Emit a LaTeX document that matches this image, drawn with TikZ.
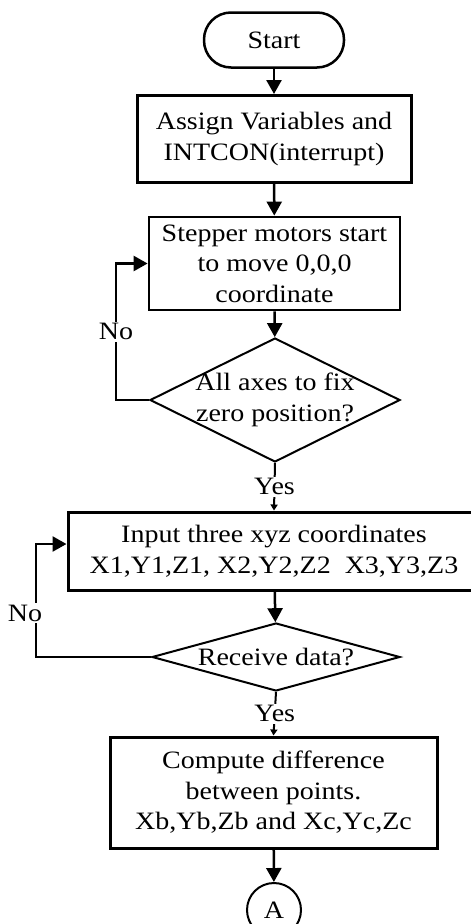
\documentclass[tikz,border=0pt]{standalone}
\usepackage{fontspec}
\setmainfont[FakeStretch=1.12]{Liberation Serif}
\usetikzlibrary{shapes.geometric,arrows.meta}
\begin{document}
\begin{tikzpicture}[x=1pt,y=1pt,
  font=\fontsize{25}{30.5}\selectfont,
  box/.style={draw, line width=3pt, rectangle, inner sep=0pt, align=center},
  term/.style={draw, line width=2.5pt, rounded corners=27pt, inner sep=0pt,
    minimum width=140pt, minimum height=55pt},
  decision/.style={draw, line width=2pt, diamond, inner sep=0pt},
  conn/.style={draw, line width=2.5pt, -{Triangle[length=14pt,width=15pt]}},
  yesconn/.style={draw, line width=2pt, -{Triangle[length=6pt,width=7pt]}},
  lab/.style={fill=white, inner sep=1.5pt},
  txt/.style={align=center, inner sep=0pt},
  ]
\useasboundingbox (0,0) rectangle (471,-924);
\clip (0,0) rectangle (471,-924);

\node[term] (start) at (274,-40) {Start};
\node[box, minimum width=274pt, minimum height=87pt] (b1) at (274,-139)
  {Assign Variables and\\INTCON(interrupt)};
\node[box, line width=2.8pt, minimum width=251pt, minimum height=93pt] (b2) at (274.5,-263.5)
  {Stepper motors start\\to move 0,0,0\\coordinate};
\node[decision, minimum width=250pt, minimum height=124pt] (d1) at (275,-400) {};
\node[txt] (d1t) at (d1.center) {All axes to fix\\zero position?};
\node[box, minimum width=412pt, minimum height=78pt] (b3) at (274,-551)
  {Input three xyz coordinates\\X1,Y1,Z1, X2,Y2,Z2\ \ X3,Y3,Z3};
\node[decision, minimum width=248pt, minimum height=68pt] (d2) at (276,-657) {};
\node[txt] (d2t) at (d2.center) {Receive data?};
\node[box, minimum width=327pt, minimum height=111pt] (b4) at (273.5,-792.5)
  {Compute difference\\between points.\\Xb,Yb,Zb and Xc,Yc,Zc};
\node[draw, circle, line width=2pt, minimum size=54pt, inner sep=0pt] (A) at (274,-910) {A};

\draw[conn] (start) -- (b1);
\draw[conn] (b1) -- (b2);
\draw[conn] (b2) -- (d1);
\draw[conn] (d1.west) -- ++(-33,0) |- (b2.west)
  node[lab, pos=0.25] (no1) {No};
\draw[yesconn] (d1.south) -- (b3.north) node[lab, midway] (yes1) {Yes};
\draw[conn] (b3) -- (d2);
\draw[conn] (d2.west) -- ++(-115,0) |- ([yshift=7pt]b3.west);
\node[lab] (no2) at (25,-613) {No};
\draw[yesconn] (d2.south) -- (b4.north) node[lab, midway] (yes2) {Yes};
\draw[conn] (b4) -- (A);
\end{tikzpicture}
\end{document}
